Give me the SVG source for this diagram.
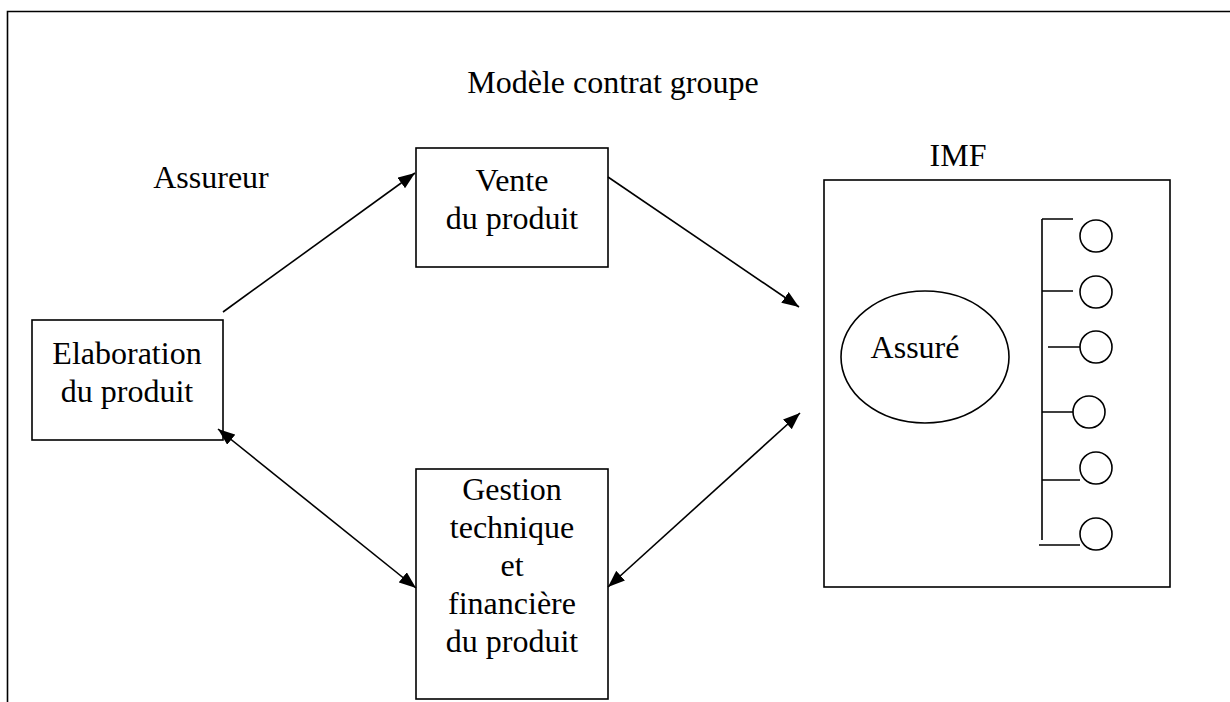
<svg xmlns="http://www.w3.org/2000/svg" width="1230" height="702" viewBox="0 0 1230 702">
  <style>
    .box { fill: #ffffff; stroke: #000000; stroke-width: 1.6; }
    .ln { fill: none; stroke: #000000; stroke-width: 1.6; }
    .lbl { font-family: "Liberation Serif", "Times New Roman", serif; font-size: 32px; fill: #000000; text-anchor: middle; }
  </style>
  <defs>
    <marker id="arrow" viewBox="0 0 17 13" refX="17" refY="6.5" markerWidth="17" markerHeight="13" markerUnits="userSpaceOnUse" orient="auto-start-reverse">
      <path d="M0,0 L17,6.5 L0,13 Z" fill="#000000"/>
    </marker>
  </defs>

  <rect width="1230" height="702" fill="#ffffff"/>

  <!-- page frame: top and left edges only -->
  <path class="ln" d="M7.5,702 V11.5 H1230" stroke-width="1.8"/>

  <text class="lbl" x="613" y="93">Modèle contrat groupe</text>
  <text class="lbl" x="211" y="188">Assureur</text>

  <g id="elaboration">
    <rect class="box" x="32" y="320" width="191" height="120"/>
    <text class="lbl" x="127" y="364">Elaboration</text>
    <text class="lbl" x="127" y="402">du produit</text>
  </g>

  <g id="vente">
    <rect class="box" x="416" y="148" width="192" height="119"/>
    <text class="lbl" x="512" y="191">Vente</text>
    <text class="lbl" x="512" y="229">du produit</text>
  </g>

  <g id="gestion">
    <rect class="box" x="416" y="469" width="192" height="230"/>
    <text class="lbl" x="512" y="500">Gestion</text>
    <text class="lbl" x="512" y="538">technique</text>
    <text class="lbl" x="512" y="576">et</text>
    <text class="lbl" x="512" y="614">financière</text>
    <text class="lbl" x="512" y="652">du produit</text>
  </g>

  <g id="imf">
    <text class="lbl" x="958" y="166">IMF</text>
    <rect class="box" x="824" y="180" width="346" height="407"/>
    <g id="assure">
      <ellipse class="box" cx="925" cy="357" rx="84" ry="66"/>
      <text class="lbl" x="915" y="358">Assuré</text>
    </g>
    <g id="membres">
      <path class="ln" d="M1042,219 V540"/>
      <path class="ln" d="M1042,219 H1073 M1042,291 H1073 M1048,347 H1080 M1042,412 H1073 M1042,480 H1080 M1039,545 H1080"/>
      <circle class="box" cx="1096" cy="236" r="16"/>
      <circle class="box" cx="1096" cy="292" r="16"/>
      <circle class="box" cx="1096" cy="347" r="16"/>
      <circle class="box" cx="1089" cy="412" r="16"/>
      <circle class="box" cx="1096" cy="468" r="16"/>
      <circle class="box" cx="1096" cy="534" r="16"/>
    </g>
  </g>

  <g id="connectors">
    <line class="ln" x1="223" y1="312" x2="415" y2="173" marker-end="url(#arrow)"/>
    <line class="ln" x1="608" y1="177" x2="799" y2="307" marker-end="url(#arrow)"/>
    <line class="ln" x1="218" y1="429" x2="416" y2="588" marker-start="url(#arrow)" marker-end="url(#arrow)"/>
    <line class="ln" x1="608" y1="587" x2="800" y2="413" marker-start="url(#arrow)" marker-end="url(#arrow)"/>
  </g>
</svg>
